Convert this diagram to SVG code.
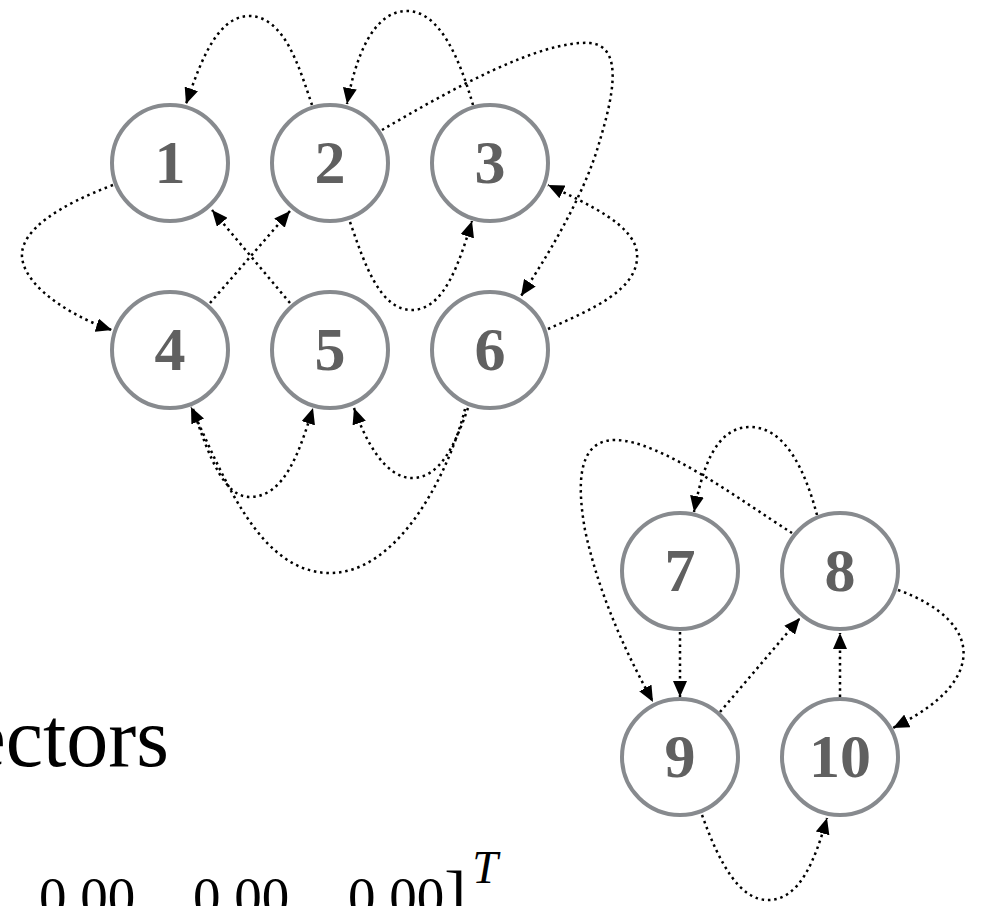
<svg xmlns="http://www.w3.org/2000/svg" width="983" height="906" viewBox="0 0 983 906">
<defs>
<marker id="arr" viewBox="0 0 16 14" refX="16" refY="7" markerWidth="16" markerHeight="14" markerUnits="userSpaceOnUse" orient="auto">
<path d="M0,0 L16,7 L0,14 z" fill="#000"/>
</marker>
<style>
.n circle{fill:#fff;stroke:#878a8e;stroke-width:4}
.n text{font-family:"Liberation Serif","Times New Roman",serif;font-weight:bold;font-size:62px;fill:#606060;text-anchor:middle}
.e path{fill:none;stroke:#000;stroke-width:2.5;stroke-dasharray:2.5 3.8;marker-end:url(#arr)}
.t{font-family:"Liberation Serif","Times New Roman",serif;fill:#000}
</style>
</defs>
<rect width="983" height="906" fill="#fff"/>
<g id="connectors" class="e">
<path d="M312,105 C300,70 285,16 249,16 C215,16 198,70 186,104"/>
<path d="M473,105 C460,60 440,11 407,11 C372,11 355,60 347,104"/>
<path d="M382,130 C450,90 540,40 590,43 C625,46 612,100 600,140 C585,195 545,260 521,296"/>
<path d="M548,329 C590,310 640,290 637,253 C634,225 590,205 548,185"/>
<path d="M113,185 C60,205 20,230 22,257 C25,290 80,320 112,330"/>
<path d="M290,303 L212,210"/>
<path d="M210,303 L290,211"/>
<path d="M350,222 C365,265 380,310 412,310 C445,310 460,260 472,221"/>
<path d="M468,408 C455,445 440,478 412,478 C385,478 365,440 354,408"/>
<path d="M465,409 C450,470 400,573 330,573 C260,573 225,480 191,407"/>
<path d="M193,409 C210,460 225,497 250,497 C285,497 300,450 313,408"/>
<path d="M817,515 C805,470 785,427 750,427 C715,427 702,470 694,512"/>
<path d="M792,533 C740,500 660,440 615,440 C575,440 578,490 585,530 C600,600 630,660 653,702"/>
<path d="M680,632 L680,697"/>
<path d="M720,712 L800,618"/>
<path d="M840,697 L840,633"/>
<path d="M898,590 C940,605 968,630 963,660 C958,690 925,712 893,728"/>
<path d="M702,815 C720,865 740,900 768,900 C800,900 815,860 827,818"/>
</g>
<g id="node1" class="n"><circle cx="170" cy="163" r="58"/><text x="170" y="183">1</text></g>
<g id="node2" class="n"><circle cx="330" cy="163" r="58"/><text x="330" y="183">2</text></g>
<g id="node3" class="n"><circle cx="490" cy="163" r="58"/><text x="490" y="183">3</text></g>
<g id="node4" class="n"><circle cx="170" cy="350" r="58"/><text x="170" y="370">4</text></g>
<g id="node5" class="n"><circle cx="330" cy="350" r="58"/><text x="330" y="370">5</text></g>
<g id="node6" class="n"><circle cx="490" cy="350" r="58"/><text x="490" y="370">6</text></g>
<g id="node7" class="n"><circle cx="680" cy="571" r="58"/><text x="680" y="591">7</text></g>
<g id="node8" class="n"><circle cx="840" cy="571" r="58"/><text x="840" y="591">8</text></g>
<g id="node9" class="n"><circle cx="680" cy="757" r="58"/><text x="680" y="777">9</text></g>
<g id="node10" class="n"><circle cx="840" cy="757" r="58"/><text x="840" y="777">10</text></g>
<text class="t" x="169" y="766" font-size="84" text-anchor="end">ectors</text>
<text class="t" x="39" y="915" font-size="55">0.00</text>
<text class="t" x="193" y="915" font-size="55">0.00</text>
<text class="t" x="348" y="915" font-size="55">0.00<tspan font-size="66" dy="1">]</tspan><tspan font-size="46" font-style="italic" dx="6" dy="-33">T</tspan></text>
</svg>
